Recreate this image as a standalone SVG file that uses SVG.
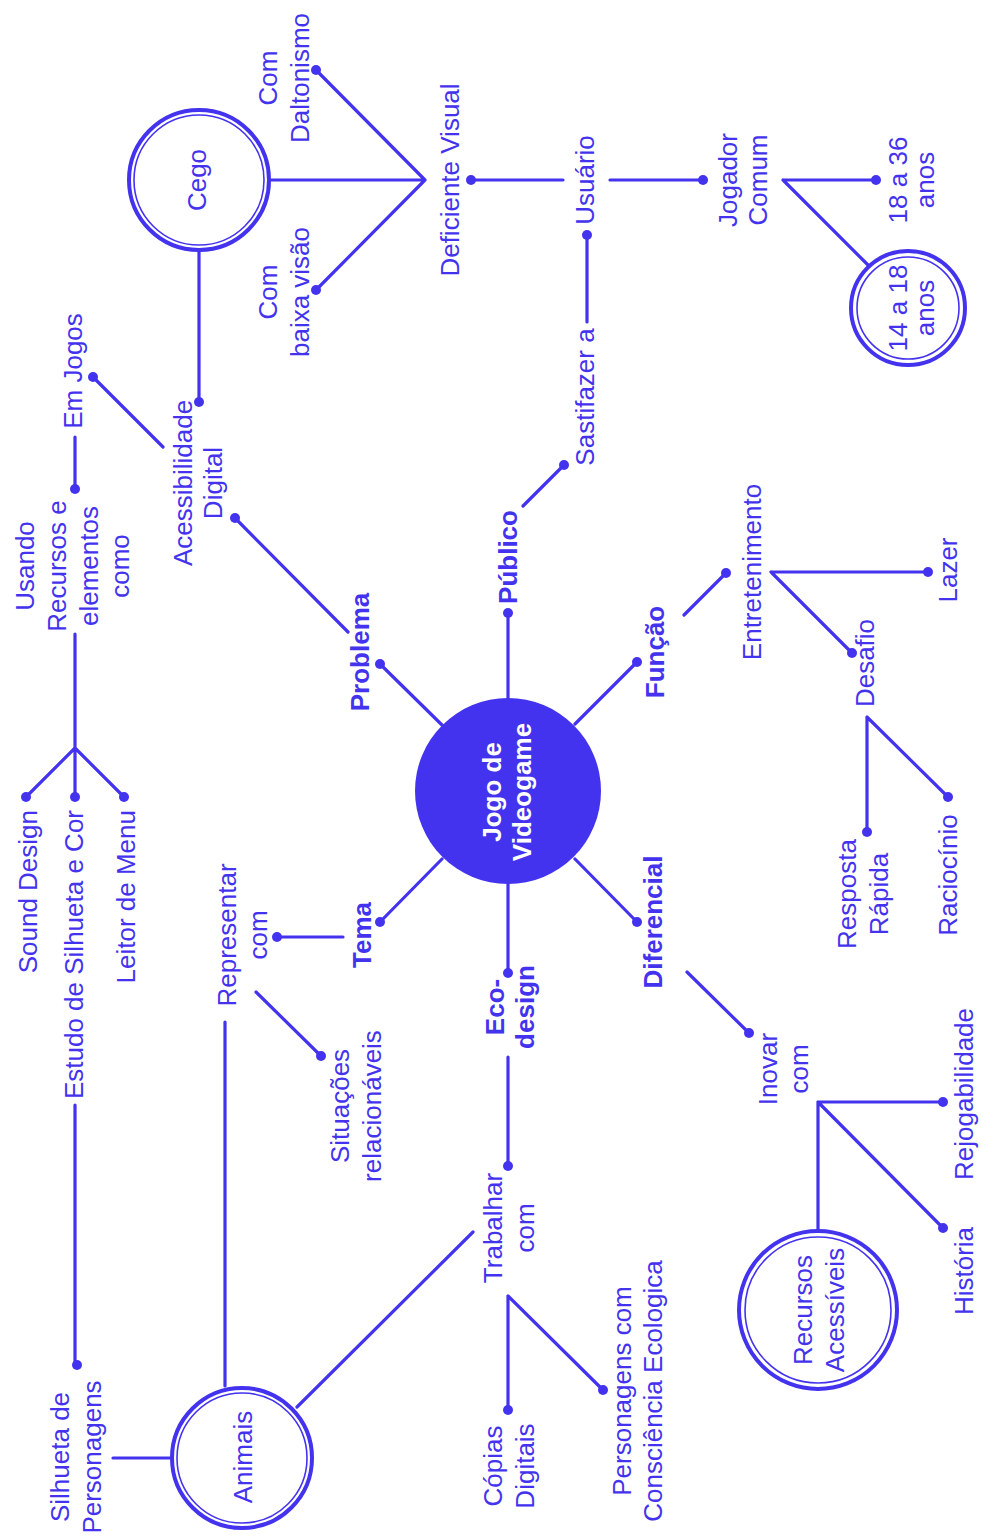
<svg xmlns="http://www.w3.org/2000/svg" width="981" height="1536" viewBox="0 0 981 1536">
<style>
.c{stroke:#4433EE;stroke-width:3.2;fill:none;stroke-linecap:round}
.d{fill:#4433EE}
.t{font-family:"Liberation Sans",Arial,sans-serif;font-size:26px;fill:#4433EE;text-anchor:middle}
.b{font-weight:bold}
.e{text-anchor:end}
.o{fill:#fff;stroke:#4433EE;stroke-width:4}
.i{fill:none;stroke:#4433EE;stroke-width:1.6}
</style>
<rect width="981" height="1536" fill="#fff"/>
<g id="connectors">
<path class="c" d="M271 180H425M425 180L316 70M425 180L316 290"/>
<path class="c" d="M471 180H563M610 180H703M587 322V235M523 506L564 465"/>
<path class="c" d="M783 180H876M783 180L868 265"/>
<path class="c" d="M199 252V402M93 377L163 447M75 437V489"/>
<path class="c" d="M75 634V748M75 748L26 797M75 748V797M75 748L124 797"/>
<path class="c" d="M235 518L348 632M380 664L442 725M508 698V613M575 724L637 662"/>
<path class="c" d="M684 615L726 573M771 572H928M771 572L852 653M867 717V832M867 717L948 797"/>
<path class="c" d="M575 859L637 922M442 859L380 922M343 937H277M508 884V973"/>
<path class="c" d="M687 972L749 1033M818 1102H943M818 1102L943 1228M818 1102V1229"/>
<path class="c" d="M508 1057V1166M508 1296V1410M508 1296L603 1390"/>
<path class="c" d="M297 1407L473 1232M225 1022V1386M256 992L321 1056M75 1105V1365M113 1458H170"/>
<g class="d">
<circle cx="316" cy="70" r="5"/><circle cx="316" cy="290" r="5"/><circle cx="471" cy="180" r="5"/>
<circle cx="703" cy="180" r="5"/><circle cx="587" cy="235" r="5"/><circle cx="564" cy="465" r="5"/>
<circle cx="876" cy="180" r="5"/><circle cx="199" cy="402" r="5"/><circle cx="93" cy="377" r="5"/>
<circle cx="75" cy="489" r="5"/><circle cx="26" cy="797" r="5"/><circle cx="75" cy="797" r="5"/>
<circle cx="124" cy="797" r="5"/><circle cx="235" cy="518" r="5"/><circle cx="380" cy="664" r="5"/>
<circle cx="508" cy="613" r="5"/><circle cx="637" cy="662" r="5"/><circle cx="726" cy="573" r="5"/>
<circle cx="928" cy="572" r="5"/><circle cx="852" cy="653" r="5"/><circle cx="867" cy="832" r="5"/>
<circle cx="948" cy="797" r="5"/><circle cx="637" cy="922" r="5"/><circle cx="380" cy="922" r="5"/>
<circle cx="277" cy="937" r="5"/><circle cx="508" cy="973" r="5"/><circle cx="749" cy="1033" r="5"/>
<circle cx="943" cy="1102" r="5"/><circle cx="943" cy="1228" r="5"/><circle cx="508" cy="1166" r="5"/>
<circle cx="508" cy="1410" r="5"/><circle cx="603" cy="1390" r="5"/><circle cx="321" cy="1056" r="5"/>
<circle cx="77" cy="1365" r="5"/>
</g>
</g>
<g id="center">
<circle cx="508" cy="791" r="93" fill="#4433EE"/>
<text class="t b" style="fill:#fff" transform="translate(501,792) rotate(-90)">Jogo de<tspan x="0" dy="30">Videogame</tspan></text>
</g>
<g id="cego">
<circle class="o" cx="199" cy="180" r="70"/><circle class="i" cx="199" cy="180" r="65"/>
<text class="t" transform="translate(206,180) rotate(-90)">Cego</text>
</g>
<g id="daltonismo"><text class="t" transform="translate(277,78) rotate(-90)">Com<tspan x="0" dy="32">Daltonismo</tspan></text></g>
<g id="baixa-visao"><text class="t" transform="translate(277,292) rotate(-90)">Com<tspan x="0" dy="32">baixa visão</tspan></text></g>
<g id="deficiente-visual"><text class="t" transform="translate(459,180) rotate(-90)">Deficiente Visual</text></g>
<g id="usuario"><text class="t" transform="translate(594,180) rotate(-90)">Usuário</text></g>
<g id="sastifazer"><text class="t" transform="translate(594,397) rotate(-90)">Sastifazer a</text></g>
<g id="jogador-comum"><text class="t" transform="translate(737,180) rotate(-90)">Jogador<tspan x="0" dy="30">Comum</tspan></text></g>
<g id="18-36"><text class="t" transform="translate(907,180) rotate(-90)">18 a 36<tspan x="0" dy="27">anos</tspan></text></g>
<g id="14-18">
<circle class="o" cx="908" cy="308" r="57"/><circle class="i" cx="908" cy="308" r="51"/>
<text class="t" transform="translate(907,308) rotate(-90)">14 a 18<tspan x="0" dy="27">anos</tspan></text>
</g>
<g id="em-jogos"><text class="t" transform="translate(82,371) rotate(-90)">Em Jogos</text></g>
<g id="acessibilidade"><text class="t" transform="translate(192,483) rotate(-90)">Acessibilidade<tspan x="0" dy="30">Digital</tspan></text></g>
<g id="usando"><text class="t" transform="translate(34,566) rotate(-90)">Usando<tspan x="0" dy="32">Recursos e</tspan><tspan x="0" dy="32">elementos</tspan><tspan x="0" dy="31">como</tspan></text></g>
<g id="sound-design"><text class="t e" transform="translate(37,810) rotate(-90)">Sound Design</text></g>
<g id="estudo"><text class="t e" transform="translate(83,810) rotate(-90)">Estudo de Silhueta e Cor</text></g>
<g id="leitor"><text class="t e" transform="translate(135,810) rotate(-90)">Leitor de Menu</text></g>
<g id="problema"><text class="t b" transform="translate(369,652) rotate(-90)">Problema</text></g>
<g id="publico"><text class="t b" transform="translate(517,557) rotate(-90)">Público</text></g>
<g id="funcao"><text class="t b" transform="translate(664,652) rotate(-90)">Função</text></g>
<g id="tema"><text class="t b" transform="translate(371,935) rotate(-90)">Tema</text></g>
<g id="diferencial"><text class="t b" transform="translate(662,922) rotate(-90)">Diferencial</text></g>
<g id="ecodesign"><text class="t b" transform="translate(504,1007) rotate(-90)">Eco-<tspan x="0" dy="30">design</tspan></text></g>
<g id="entretenimento"><text class="t" transform="translate(761,572) rotate(-90)">Entretenimento</text></g>
<g id="lazer"><text class="t" transform="translate(957,570) rotate(-90)">Lazer</text></g>
<g id="desafio"><text class="t" transform="translate(874,663) rotate(-90)">Desafio</text></g>
<g id="resposta"><text class="t" transform="translate(856,894) rotate(-90)">Resposta<tspan x="0" dy="32">Rápida</tspan></text></g>
<g id="raciocinio"><text class="t" transform="translate(957,875) rotate(-90)">Raciocínio</text></g>
<g id="representar"><text class="t" transform="translate(236,935) rotate(-90)">Representar<tspan x="0" dy="31">com</tspan></text></g>
<g id="situacoes"><text class="t" transform="translate(349,1106) rotate(-90)">Situações<tspan x="0" dy="32">relacionáveis</tspan></text></g>
<g id="trabalhar"><text class="t" transform="translate(502,1228) rotate(-90)">Trabalhar<tspan x="0" dy="32">com</tspan></text></g>
<g id="copias"><text class="t" transform="translate(502,1466) rotate(-90)">Cópias<tspan x="0" dy="32">Digitais</tspan></text></g>
<g id="personagens-eco"><text class="t" transform="translate(631,1391) rotate(-90)">Personagens com<tspan x="0" dy="31">Consciência Ecologica</tspan></text></g>
<g id="inovar"><text class="t" transform="translate(777,1069) rotate(-90)">Inovar<tspan x="0" dy="31">com</tspan></text></g>
<g id="recursos">
<circle class="o" cx="818" cy="1310" r="79"/><circle class="i" cx="818" cy="1310" r="73"/>
<text class="t" transform="translate(812,1310) rotate(-90)">Recursos<tspan x="0" dy="32">Acessíveis</tspan></text>
</g>
<g id="rejogabilidade"><text class="t" transform="translate(973,1094) rotate(-90)">Rejogabilidade</text></g>
<g id="historia"><text class="t" transform="translate(973,1271) rotate(-90)">História</text></g>
<g id="animais">
<circle class="o" cx="242" cy="1458" r="70"/><circle class="i" cx="242" cy="1458" r="65"/>
<text class="t" transform="translate(252,1457) rotate(-90)">Animais</text>
</g>
<g id="silhueta"><text class="t" transform="translate(69,1457) rotate(-90)">Silhueta de<tspan x="0" dy="32">Personagens</tspan></text></g>
</svg>
